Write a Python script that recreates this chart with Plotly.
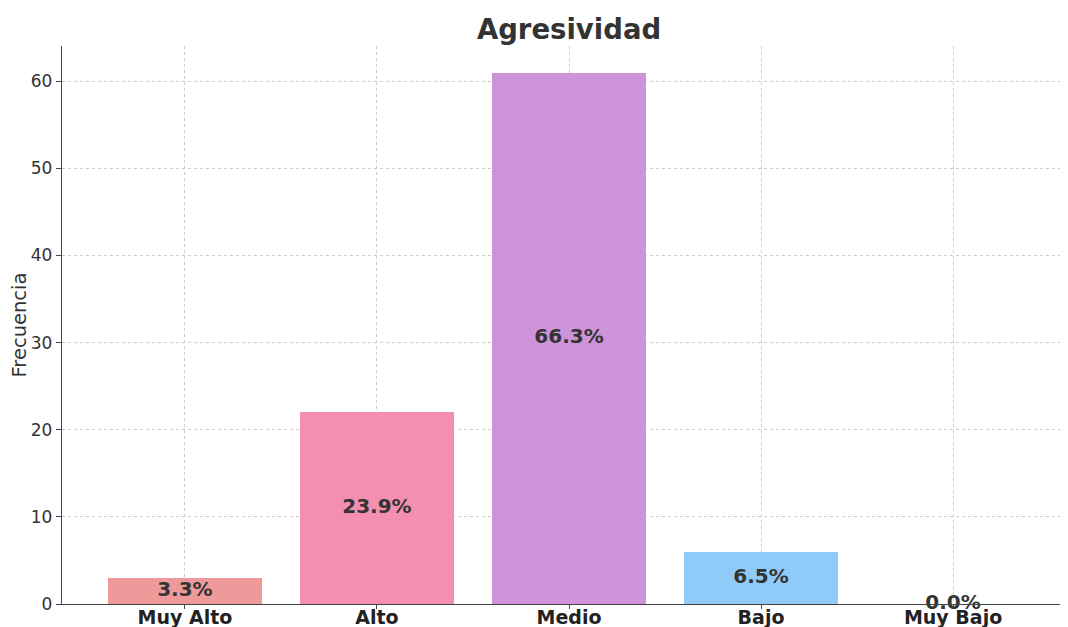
import plotly.graph_objects as go

categories = ["Muy Alto", "Alto", "Medio", "Bajo", "Muy Bajo"]
frecuencias = [3, 22, 61, 6, 0]
porcentajes = ["3.3%", "23.9%", "66.3%", "6.5%", "0.0%"]
colores = ["#EF9A9A", "#F48FB1", "#CE93D8", "#90CAF9", "#80CBC4"]

xs = list(range(len(categories)))
mid = [v / 2 for v in frecuencias]

fig = go.Figure()
fig.add_trace(go.Bar(
    x=xs, y=frecuencias, width=0.8,
    marker=dict(color=colores, line=dict(width=0)),
    hoverinfo="skip", showlegend=False,
))
fig.add_trace(go.Scatter(
    x=xs, y=mid, mode="text", text=porcentajes,
    textposition="middle center",
    textfont=dict(family="DejaVu Sans", size=20, color="#333333", weight="bold"),
    cliponaxis=False, showlegend=False, hoverinfo="skip",
))

fig.update_layout(
    width=1068, height=619,
    margin=dict(l=54, r=0, t=38, b=23, autoexpand=False),
    paper_bgcolor="white", plot_bgcolor="white",
    font=dict(family="DejaVu Sans", color="#333333"),
    title=dict(text="<b>Agresividad</b>", x=0.5253, xanchor="center", y=0.966, yanchor="middle",
               font=dict(size=27.5, color="#333333", family="DejaVu Sans")),
    bargap=0,
)
fig.update_xaxes(
    range=[-0.64, 4.64], automargin=False,
    tickmode="array", tickvals=xs, ticktext=["<b>%s</b>" % c for c in categories],
    tickfont=dict(size=19, color="#222222"),
    ticklabelstandoff=-8,
    showgrid=True, gridcolor="#cccccc", griddash="3px,3px", gridwidth=0.8,
    showline=True, linecolor="#444444", linewidth=1.3,
    ticks="outside", ticklen=4, tickcolor="#444444",
    zeroline=False, layer="above traces",
)
fig.update_yaxes(
    range=[0, 64.05], automargin=False,
    tickmode="array", tickvals=[0, 10, 20, 30, 40, 50, 60],
    tickfont=dict(size=17, color="#333333"),
    title=dict(text="Frecuencia", font=dict(size=19.5, color="#333333"), standoff=8),
    showgrid=True, gridcolor="#cccccc", griddash="3px,3px", gridwidth=0.8,
    showline=True, linecolor="#444444", linewidth=1.3,
    ticks="outside", ticklen=5, tickcolor="#444444",
    zeroline=False, layer="above traces",
)

fig.write_html("out.html")
